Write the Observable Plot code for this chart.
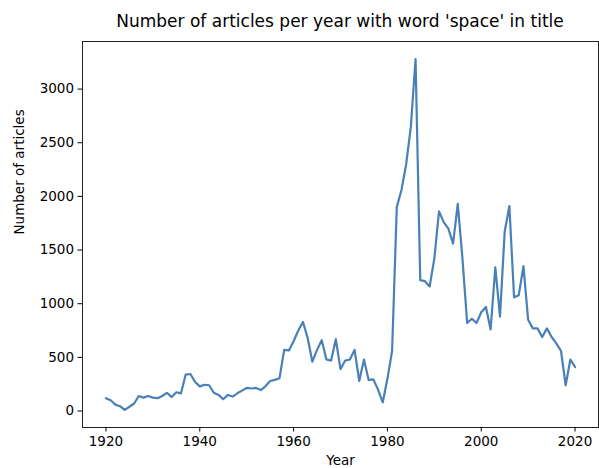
<!DOCTYPE html>
<html><head><meta charset="utf-8">
<script src="https://cdn.jsdelivr.net/npm/d3@7"></script>
<script src="https://cdn.jsdelivr.net/npm/@observablehq/plot@0.6"></script>
<style>
body{margin:0;background:#fff;font-family:"DejaVu Sans",sans-serif;}
#title{height:36px;box-sizing:border-box;padding:12px 1px 0 82px;text-align:center;font-size:17px;color:#000;line-height:19px;white-space:nowrap;}
</style></head><body>
<div id="title">Number of articles per year with word 'space' in title</div>
<div id="chart"></div>
<script>
const years = [1920,1921,1922,1923,1924,1925,1926,1927,1928,1929,
1930,1931,1932,1933,1934,1935,1936,1937,1938,1939,
1940,1941,1942,1943,1944,1945,1946,1947,1948,1949,
1950,1951,1952,1953,1954,1955,1956,1957,1958,1959,
1960,1961,1962,1963,1964,1965,1966,1967,1968,1969,
1970,1971,1972,1973,1974,1975,1976,1977,1978,1979,
1980,1981,1982,1983,1984,1985,1986,1987,1988,1989,
1990,1991,1992,1993,1994,1995,1996,1997,1998,1999,
2000,2001,2002,2003,2004,2005,2006,2007,2008,2009,
2010,2011,2012,2013,2014,2015,2016,2017,2018,2019,2020];
const articles = [120,100,60,45,10,40,70,140,125,140,
125,120,140,170,130,175,165,340,345,270,
230,245,240,170,150,110,150,135,165,190,
215,210,215,195,230,280,290,305,570,565,
650,750,830,680,460,570,660,480,470,670,
390,470,480,570,280,480,290,295,200,80,
300,560,1900,2060,2300,2650,3280,1220,1210,1160,
1420,1860,1760,1700,1560,1930,1420,820,860,820,
920,970,760,1340,880,1670,1910,1060,1080,1350,
850,770,770,690,770,690,630,560,240,480,410];
const xTicks = [1920,1940,1960,1980,2000,2020];
const yTicks = [0,500,1000,1500,2000,2500,3000];
const titleText = "Number of articles per year with word 'space' in title";
const xLabel = "Year";
const yLabel = "Number of articles";

const data = years.map((y,i)=>({year:y, n:articles[i]}));
const ymin = d3.min(articles), ymax = d3.max(articles), yr = ymax - ymin;

const chart = Plot.plot({
  width: 599,
  height: 432,
  marginLeft: 82,
  marginRight: 1,
  marginTop: 5,
  marginBottom: 41,
  style: {fontFamily: "DejaVu Sans, sans-serif", fontSize: "13.5px", color: "#000", background: "#fff"},
  x: {domain: [1915, 2025], label: null},
  y: {domain: [ymin - 0.05*yr, ymax + 0.05*yr], label: null},
  marks: [
    Plot.line(data, {x: "year", y: "n", stroke: "#4a80b8", strokeWidth: 2.2}),
    Plot.frame({stroke: "#222", strokeWidth: 1}),
    Plot.axisX({ticks: xTicks, tickFormat: d => String(d), tickSize: 4.5, tickPadding: 4, fontSize: 13.5, label: null}),
    Plot.axisY({ticks: yTicks, tickFormat: d => String(d), tickSize: 4.5, tickPadding: 4, fontSize: 13.5, label: null}),
    Plot.text([xLabel], {frameAnchor: "bottom", lineAnchor: "bottom", dy: 37, fontSize: 13.5, fill: "#000"}),
    Plot.text([yLabel], {frameAnchor: "left", rotate: -90, dx: -63, fontSize: 13.5, fill: "#000"})
  ]
});
document.getElementById("title").textContent = titleText;
document.getElementById("chart").appendChild(chart);
</script>
</body></html>
